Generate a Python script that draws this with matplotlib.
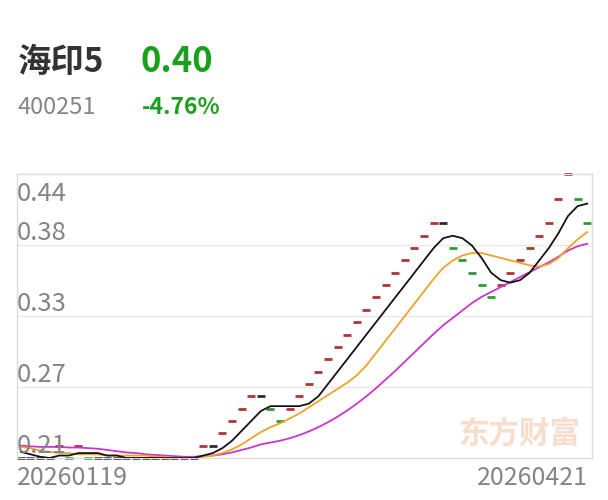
import matplotlib
matplotlib.use("Agg")
import matplotlib.pyplot as plt
import numpy as np

plt.rcParams['font.family'] = ['Noto Sans CJK SC', 'DejaVu Sans']

stock_name = "海印5"
stock_code = "400251"
last_price = "0.40"
change_pct = "-4.76%"
start_date = "20260119"
end_date = "20260421"

prices = [0.21, 0.21, 0.21, 0.21, 0.22, 0.21, 0.22, 0.21, 0.21, 0.21,
          0.21, 0.21, 0.21, 0.21, 0.21, 0.21, 0.21, 0.21, 0.21, 0.22,
          0.22, 0.23, 0.24, 0.25, 0.26, 0.26, 0.25, 0.24, 0.25, 0.26,
          0.27, 0.28, 0.29, 0.30, 0.31, 0.32, 0.33, 0.34, 0.35, 0.36,
          0.37, 0.38, 0.39, 0.40, 0.40, 0.38, 0.37, 0.36, 0.35, 0.34,
          0.35, 0.36, 0.37, 0.38, 0.39, 0.40, 0.42, 0.44, 0.42, 0.40]

ma5 = [0.215, 0.213, 0.211, 0.210, 0.212, 0.212, 0.214, 0.214, 0.214, 0.212,
       0.212, 0.210, 0.210, 0.210, 0.210, 0.210, 0.210, 0.210, 0.210, 0.212,
       0.214, 0.218, 0.224, 0.232, 0.240, 0.248, 0.252, 0.252, 0.252, 0.252,
       0.254, 0.260, 0.270, 0.280, 0.290, 0.300, 0.310, 0.320, 0.330, 0.340,
       0.350, 0.360, 0.370, 0.380, 0.388, 0.390, 0.388, 0.382, 0.372, 0.360,
       0.354, 0.352, 0.354, 0.360, 0.370, 0.380, 0.392, 0.406, 0.414, 0.416]

ma10 = [0.219, 0.218, 0.216, 0.215, 0.214, 0.214, 0.213, 0.213, 0.213, 0.212,
        0.212, 0.212, 0.212, 0.212, 0.211, 0.211, 0.210, 0.210, 0.210, 0.211,
        0.212, 0.214, 0.217, 0.221, 0.226, 0.231, 0.235, 0.238, 0.242, 0.246,
        0.251, 0.256, 0.261, 0.266, 0.271, 0.277, 0.285, 0.295, 0.305, 0.315,
        0.325, 0.335, 0.345, 0.355, 0.364, 0.370, 0.374, 0.376, 0.376, 0.374,
        0.372, 0.370, 0.368, 0.366, 0.365, 0.367, 0.372, 0.380, 0.387, 0.393]

ma20 = [0.2200, 0.2195, 0.2190, 0.2190, 0.2190, 0.2185, 0.2185, 0.2180, 0.2175, 0.2165,
        0.2155, 0.2145, 0.2140, 0.2130, 0.2125, 0.2120, 0.2115, 0.2110, 0.2110, 0.2115,
        0.2120, 0.2130, 0.2145, 0.2165, 0.2185, 0.2210, 0.2225, 0.2240, 0.2260, 0.2285,
        0.2315, 0.2350, 0.2390, 0.2435, 0.2485, 0.2540, 0.2600, 0.2665, 0.2735, 0.2805,
        0.2880, 0.2955, 0.3030, 0.3105, 0.3175, 0.3235, 0.3295, 0.3355, 0.3405, 0.3445,
        0.3485, 0.3525, 0.3565, 0.3605, 0.3645, 0.3685, 0.3730, 0.3780, 0.3815, 0.3835]

y_labels = ["0.21", "0.27", "0.33", "0.38", "0.44"]

up_color = "#b03434"
down_color = "#2f9a36"
flat_color = "#2a2a2a"
green_text = "#1aa01a"
gray_text = "#858585"

fig = plt.figure(figsize=(6.08, 5.00), dpi=100)
ax = fig.add_axes([17 / 608, 1 - 458 / 500, 575 / 608, 284 / 500])

x = np.arange(len(prices))
colors = [flat_color]
for i in range(1, len(prices)):
    if prices[i] > prices[i - 1]:
        colors.append(up_color)
    elif prices[i] < prices[i - 1]:
        colors.append(down_color)
    else:
        colors.append(flat_color)

for xi, p, c in zip(x, prices, colors):
    ax.plot(xi, p, marker="_", markersize=6, mew=2, color=c, clip_on=False, zorder=2)

ax.plot(x, ma20, color="#cc35cc", lw=1.3, zorder=3)
ax.plot(x, ma10, color="#f0a22a", lw=1.3, zorder=4)
ax.plot(x, ma5, color="#141414", lw=1.3, zorder=5)

ax.set_xlim(-0.4, 59.5)
ax.set_ylim(0.21, 0.44)
grid_vals = np.linspace(0.21, 0.44, 5)
for gv in grid_vals[1:-1]:
    ax.axhline(gv, color="#e8e8e8", lw=1, zorder=1)

ax.set_xticks([])
ax.set_yticks([])
for s in ax.spines.values():
    s.set_color("#dcdcdc")
    s.set_linewidth(1)

# y labels sit just above their grid line, top one below the border
for gv, lab in zip(grid_vals, y_labels):
    if lab == y_labels[-1]:
        ax.annotate(lab, (0, gv), xycoords=("axes fraction", "data"), xytext=(0, -5),
                    textcoords="offset points", va="top", ha="left",
                    fontsize=18.5, color=gray_text, zorder=6)
    else:
        ax.annotate(lab, (0, gv), xycoords=("axes fraction", "data"), xytext=(0, -1),
                    textcoords="offset points", va="bottom", ha="left",
                    fontsize=18.5, color=gray_text, zorder=6)

ax.text(0.0, -0.025, start_date, transform=ax.transAxes, ha="left", va="top",
        fontsize=18, color=gray_text)
ax.text(0.993, -0.025, end_date, transform=ax.transAxes, ha="right", va="top",
        fontsize=18, color=gray_text)

ax.text(0.979, 0.085, "东方财富", transform=ax.transAxes, ha="right", va="center",
        fontsize=22, fontweight="bold", color="#f8dccc", zorder=0)

fig.text(18 / 608, 1 - 62 / 500, stock_name, ha="left", va="center",
         fontsize=24, fontweight="bold", color="#333333")
fig.text(140 / 608, 1 - 62 / 500, last_price, ha="left", va="center",
         fontsize=25, fontweight="bold", color=green_text)
fig.text(18 / 608, 1 - 108 / 500, stock_code, ha="left", va="center",
         fontsize=17, color=gray_text)
fig.text(142 / 608, 1 - 108 / 500, change_pct, ha="left", va="center",
         fontsize=16.5, fontweight="bold", color=green_text)

fig.savefig("out.png", dpi=100, facecolor="white")
